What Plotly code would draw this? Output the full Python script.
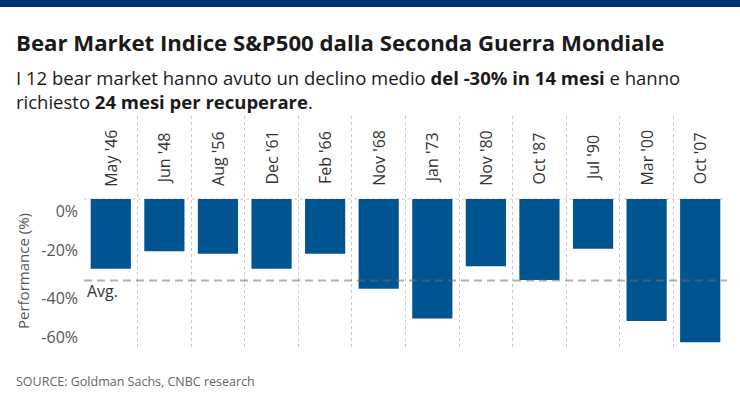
import plotly.graph_objects as go

categories = ["May '46", "Jun '48", "Aug '56", "Dec '61", "Feb '66", "Nov '68",
              "Jan '73", "Nov '80", "Oct '87", "Jul '90", "Mar '00", "Oct '07"]
performance = [-28, -21, -22, -28, -22, -36, -48, -27, -32.5, -20, -49, -57.5]
avg_value = -32.7
tick_positions = [-4.8, -20.5, -39.8, -55.4]
tick_labels = ["0%", "-20%", "-40%", "-60%"]

title = "Bear Market Indice S&P500 dalla Seconda Guerra Mondiale"
subtitle = ("I 12 bear market hanno avuto un declino medio <b>del -30% in 14 mesi</b> e hanno"
            "<br>richiesto <b>24 mesi per recuperare</b>.")
source = "SOURCE: Goldman Sachs, CNBC research"

W, H = 740, 402
L, R, T, B = 84, 13, 116, 54
PW, PH = W - L - R, H - T - B

def px(x):
    return (x - L) / PW

def py(y):
    return (H - B - y) / PH

xs = list(range(len(categories)))

fig = go.Figure()
fig.add_trace(go.Bar(x=xs, y=performance, width=0.75, marker_color="#005591",
                     marker_line_width=0, hoverinfo="skip"))

label_font = dict(family="Open Sans", size=16, color="#333333")
for i, c in zip(xs, categories):
    fig.add_annotation(x=i, y=0, xref="x", yref="y", text=c, showarrow=False,
                       textangle=-90, yshift=41, yanchor="middle", xanchor="center",
                       font=label_font)

# zero line (dotted) and average line (dashed)
fig.add_shape(type="line", xref="paper", x0=0, x1=1, yref="y", y0=0, y1=0,
              line=dict(color="#c8c8c8", width=1, dash="dot"), layer="below")
fig.add_shape(type="line", xref="paper", x0=0, x1=1, yref="y", y0=avg_value, y1=avg_value,
              line=dict(color="rgba(110,110,110,0.55)", width=2, dash="8px,5px"), layer="above")
fig.add_annotation(x=0, xref="paper", y=avg_value, yref="y", text="Avg.", showarrow=False,
                   xanchor="left", yanchor="top", xshift=1, yshift=2,
                   font=dict(family="Open Sans", size=16, color="#333333"))

# top band
fig.add_shape(type="rect", xref="paper", yref="paper", x0=px(0), x1=px(W), y0=py(7), y1=py(0),
              fillcolor="#00336f", line_width=0, layer="above")

fig.add_annotation(xref="paper", yref="paper", x=px(14), y=py(42), text="<b>" + title + "</b>",
                   showarrow=False, xanchor="left", yanchor="middle",
                   font=dict(family="Open Sans", size=22.2, color="#1a1a1a"))
fig.add_annotation(xref="paper", yref="paper", x=px(14), y=py(89), text=subtitle,
                   showarrow=False, xanchor="left", yanchor="middle", align="left",
                   font=dict(family="Open Sans", size=18.5, color="#1a1a1a"))
fig.add_annotation(xref="paper", yref="paper", x=px(14), y=py(381), text=source,
                   showarrow=False, xanchor="left", yanchor="middle",
                   font=dict(family="Open Sans", size=12.5, color="#666666"))
fig.add_annotation(xref="paper", yref="paper", x=px(23), y=py(271), text="Performance (%)",
                   showarrow=False, textangle=-90, xanchor="center", yanchor="middle",
                   font=dict(family="Open Sans", size=15, color="#555555"))

fig.update_xaxes(range=[-0.5, 11.5], tickvals=[i - 0.5 for i in range(len(categories) + 1)],
                 showticklabels=False, showgrid=True, gridcolor="#c8c8c8", griddash="dot",
                 gridwidth=1, zeroline=False, showline=False, ticks="")
fig.update_yaxes(range=[-59.8, 33.3], tickvals=tick_positions, ticktext=tick_labels,
                 showgrid=False, zeroline=False, showline=False, ticks="",
                 ticklabelstandoff=5,
                 tickfont=dict(family="Open Sans", size=16, color="#555555"))

fig.update_layout(width=W, height=H, margin=dict(l=L, r=R, t=T, b=B),
                  plot_bgcolor="white", paper_bgcolor="white", showlegend=False,
                  bargap=0.25)

fig.write_html("out.html")
